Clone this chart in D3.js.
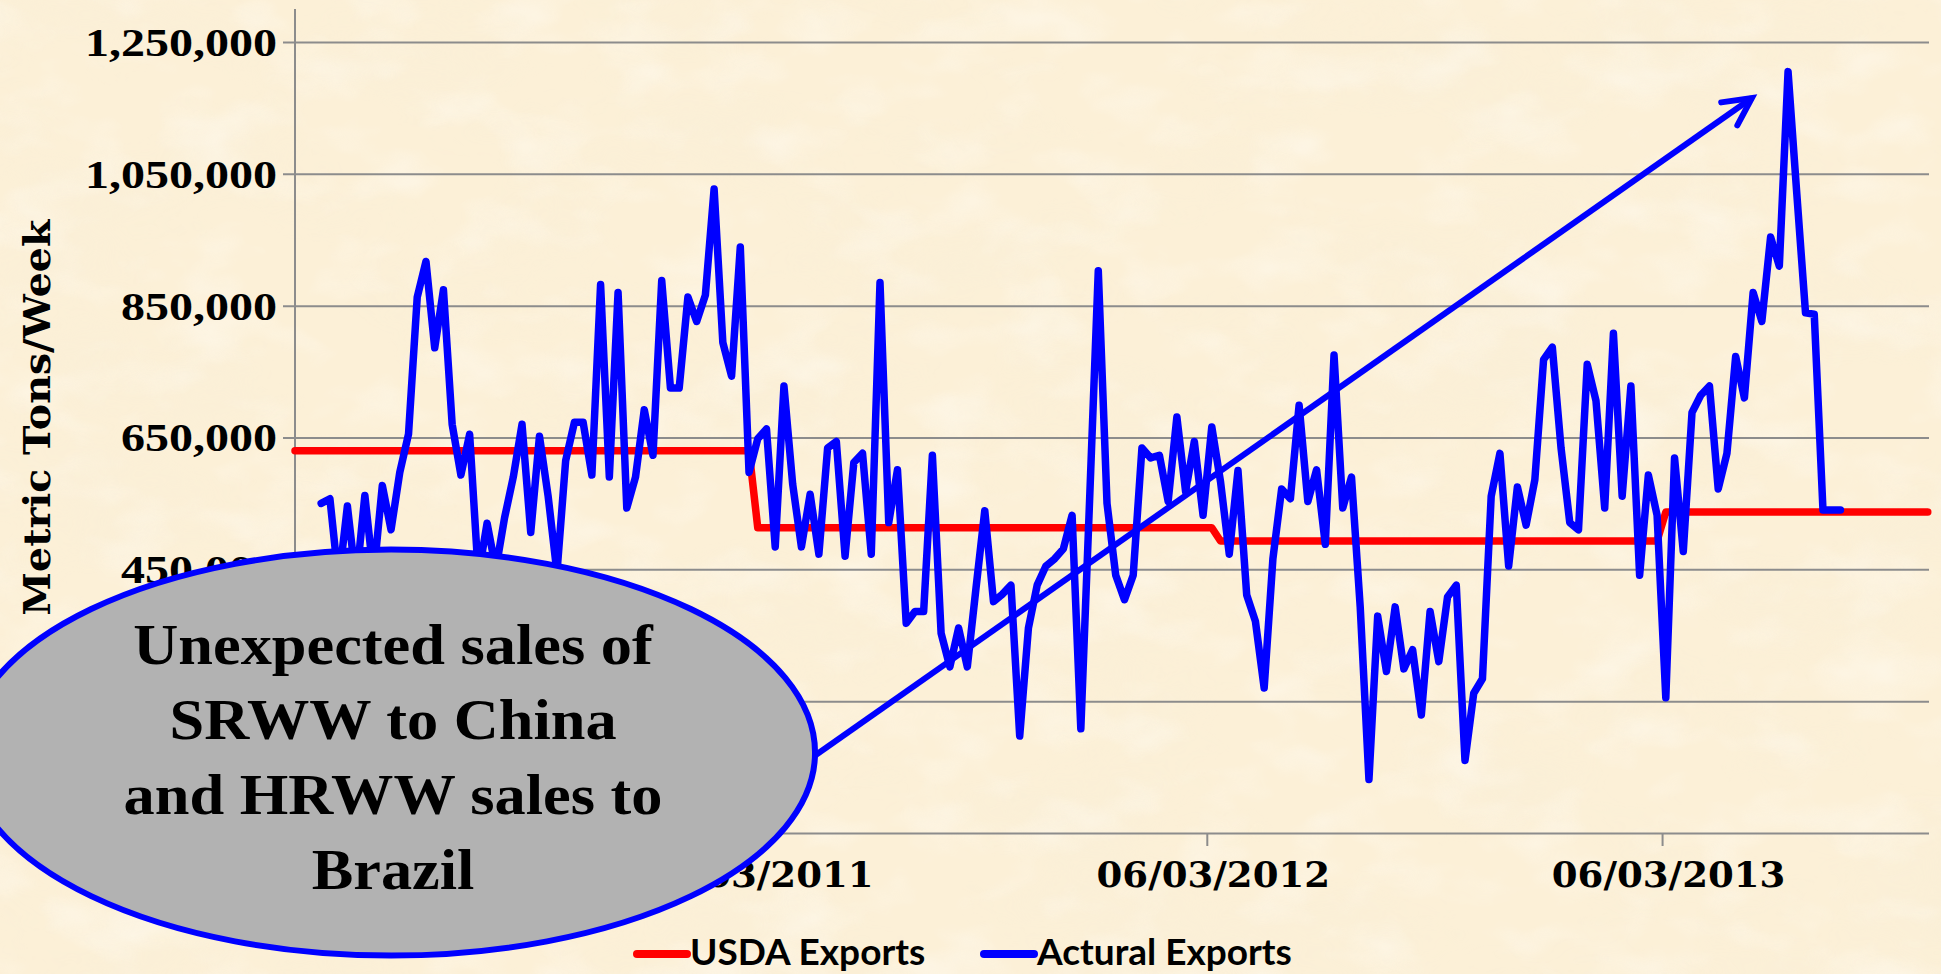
<!DOCTYPE html>
<meta charset="utf-8">
<style>
body { margin: 0; background: #fcf0d7; }
svg { display: block; }
.grid line, .xaxis line { stroke: #8c8c8c; stroke-width: 2px; }
.grid path, .xaxis path { display: none; }
.line { fill: none; stroke-width: 7.5px; stroke-linejoin: round; stroke-linecap: round; }
.ylab { font-family: "Liberation Serif", serif; font-weight: bold; font-size: 40px; fill: #000; }
.xaxis text { font-family: "DejaVu Serif", serif; font-weight: bold; font-size: 35px; fill: #000; }
.ytitle { font-family: "DejaVu Serif", serif; font-weight: bold; font-size: 37px; }
.note { font-family: "Liberation Serif", serif; font-weight: bold; font-size: 58px; }
.legend { font-family: "Lato", sans-serif; font-weight: bold; font-size: 37px; }
</style>
<body>
<script src="https://d3js.org/d3.v7.min.js"></script>
<script>

// weekly actual exports (metric tons), one value per week from actualStart
var actualStart = "2010-06-24";
var actualExports = [
  550000, 557000, 430000, 546000, 430000, 562000, 440000, 577000, 510000, 597000,
  655000, 863000, 917000, 786000, 874000, 670000, 593000, 655000, 440000, 520000,
  450000, 528000, 590000, 670000, 506000, 652000, 560000, 445000, 615000, 673000,
  673000, 593000, 882000, 590000, 870000, 543000, 590000, 692000, 623000, 888000,
  725000, 725000, 863000, 826000, 866000, 1027000, 794000, 743000, 939000, 597000,
  648000, 663000, 484000, 728000, 579000, 484000, 564000, 473000, 634000, 644000,
  470000, 612000, 626000, 473000, 885000, 521000, 601000, 368000, 386000, 386000,
  623000, 353000, 302000, 361000, 302000, 422000, 539000, 401000, 412000, 426000,
  197000, 361000, 426000, 455000, 466000, 481000, 532000, 208000, 553000, 903000,
  550000, 441000, 404000, 441000, 634000, 619000, 623000, 553000, 681000, 568000,
  644000, 532000, 666000, 583000, 473000, 600000, 411000, 371000, 270000, 466000,
  572000, 557000, 699000, 553000, 601000, 488000, 775000, 543000, 590000, 393000,
  131000, 379000, 295000, 393000, 299000, 328000, 229000, 386000, 310000, 408000,
  426000, 160000, 262000, 284000, 561000, 626000, 455000, 575000, 517000, 586000,
  768000, 787000, 634000, 521000, 510000, 761000, 706000, 543000, 808000, 561000,
  728000, 441000, 593000, 532000, 255000, 619000, 477000, 688000, 714000, 728000,
  572000, 626000, 773000, 710000, 870000, 826000, 954000, 910000, 1205000, 1020000,
  839000, 837000, 540000, 540000, 540000
];

// USDA needed weekly exports, vertices of the step line
var usdaDates = ["2010-06-03", "2011-06-02", "2011-06-09", "2012-06-07",
                 "2012-06-14", "2013-05-30", "2013-06-06", "2014-01-02"];
var usdaExports = [630000, 630000, 513000, 513000, 493000, 493000, 537000, 537000];

var yTicks = [50000, 250000, 450000, 650000, 850000, 1050000, 1250000];
var xTicks = ["06/03/2010", "06/03/2011", "06/03/2012", "06/03/2013"];
var seriesNames = ["USDA Exports", "Actural Exports"];
var noteLines = ["Unexpected sales of", "SRWW to China", "and HRWW sales to", "Brazil"];

// callout placement (in data terms)
var noteAt = {date: "2010-08-19", value: 172000};
var arrowTip = {date: "2013-08-14", value: 1165000};

var width = 1941, height = 974;
var margin = {top: 9, right: 12, bottom: 141, left: 295};

var parseDay = d3.utcParse("%Y-%m-%d");
var parseTick = d3.utcParse("%m/%d/%Y");

var actual = actualExports.map(function(v, i) {
  return {date: d3.utcDay.offset(parseDay(actualStart), 7 * i), value: v};
});
var usda = usdaDates.map(function(d, i) {
  return {date: parseDay(d), value: usdaExports[i]};
});

var x = d3.scaleUtc()
    .domain([parseDay("2010-06-03"), parseDay("2014-01-03")])
    .range([margin.left, width - margin.right]);
var y = d3.scaleLinear()
    .domain([50000, 1300000])
    .range([height - margin.bottom, margin.top]);

var svg = d3.select("body").append("svg")
    .attr("width", width)
    .attr("height", height);

// parchment background
var defs = svg.append("defs");
var f1 = defs.append("filter").attr("id", "paper").attr("x", 0).attr("y", 0).attr("width", "100%").attr("height", "100%");
f1.append("feTurbulence").attr("type", "fractalNoise").attr("baseFrequency", "0.005 0.009")
  .attr("numOctaves", 4).attr("seed", 7);
f1.append("feColorMatrix").attr("type", "matrix")
  .attr("values", "0 0 0 0 0.93  0 0 0 0 0.85  0 0 0 0 0.68  1.8 0 0 0 -0.8");
var f2 = defs.append("filter").attr("id", "paper2").attr("x", 0).attr("y", 0).attr("width", "100%").attr("height", "100%");
f2.append("feTurbulence").attr("type", "fractalNoise").attr("baseFrequency", "0.012 0.02")
  .attr("numOctaves", 3).attr("seed", 21);
f2.append("feColorMatrix").attr("type", "matrix")
  .attr("values", "0 0 0 0 1  0 0 0 0 0.99  0 0 0 0 0.96  1.8 0 0 0 -0.85");

svg.append("rect").attr("width", width).attr("height", height).attr("fill", "#fcf0d7");
svg.append("rect").attr("width", width).attr("height", height).attr("filter", "url(#paper)").attr("opacity", 0.45);
svg.append("rect").attr("width", width).attr("height", height).attr("filter", "url(#paper2)").attr("opacity", 0.5);

// stretch text horizontally to mimic the widened slide
function stretch(sel, k) {
  sel.each(function() {
    var w = this.getComputedTextLength();
    d3.select(this).attr("textLength", w * k).attr("lengthAdjust", "spacingAndGlyphs");
  });
}

// horizontal gridlines (with the small outside ticks)
var tickLen = 12;
svg.append("g")
    .attr("class", "grid")
    .attr("transform", "translate(" + (margin.left - tickLen) + ",0)")
    .call(d3.axisLeft(y).tickValues(yTicks).tickFormat("")
      .tickSize(-(width - margin.right - margin.left + tickLen)));

// y axis line
svg.append("line")
    .attr("x1", margin.left).attr("x2", margin.left)
    .attr("y1", y(1300000)).attr("y2", y(50000))
    .attr("stroke", "#8c8c8c").attr("stroke-width", 2);

// y labels
svg.append("g").selectAll("text")
  .data(yTicks)
  .join("text")
    .attr("class", "ylab")
    .attr("x", margin.left - 18)
    .attr("y", function(d) { return y(d); })
    .attr("dy", "0.35em")
    .attr("text-anchor", "end")
    .text(d3.format(","))
    .call(stretch, 1.2);

// x axis
var xa = svg.append("g")
    .attr("class", "xaxis")
    .attr("transform", "translate(0," + y(50000) + ")")
    .call(d3.axisBottom(x)
      .tickValues(xTicks.map(function(t) { return parseTick(t); }))
      .tickSize(13)
      .tickFormat(d3.utcFormat("%m/%d/%Y")));
xa.selectAll(".tick text")
    .attr("y", 54).attr("dy", null).attr("x", 6)
    .call(stretch, 1.06);

// y title
svg.append("text")
    .attr("class", "ytitle")
    .attr("transform", "translate(50," + y(680000) + ") rotate(-90)")
    .attr("text-anchor", "middle")
    .text("Metric Tons/Week")
    .call(function(s) { s.attr("textLength", 396).attr("lengthAdjust", "spacingAndGlyphs"); });

// series
var valueline = d3.line()
    .x(function(d) { return x(d.date); })
    .y(function(d) { return y(d.value); });

svg.append("path")
    .data([usda])
    .attr("class", "line")
    .style("stroke", "#ff0000")
    .attr("d", valueline);
svg.append("path")
    .data([actual])
    .attr("class", "line")
    .style("stroke", "#0000ff")
    .attr("d", valueline);

// callout arrow
var cx = x(parseDay(noteAt.date)), cy = y(noteAt.value);
var rx = 424, ry = 203;
var ax = x(parseDay(arrowTip.date)), ay = y(arrowTip.value);
var sx = cx + rx, sy = cy + 3;
var ang = Math.atan2(ay - sy, ax - sx);
var barb = 31, spread = 0.47;
svg.append("line")
    .attr("x1", sx).attr("y1", sy).attr("x2", ax).attr("y2", ay)
    .attr("stroke", "#0000ff").attr("stroke-width", 6);
svg.append("path")
    .attr("d", "M" + (ax - barb * Math.cos(ang - spread)) + "," + (ay - barb * Math.sin(ang - spread)) +
               "L" + ax + "," + ay +
               "L" + (ax - barb * Math.cos(ang + spread)) + "," + (ay - barb * Math.sin(ang + spread)))
    .attr("fill", "none").attr("stroke", "#0000ff").attr("stroke-width", 6)
    .attr("stroke-linecap", "round").attr("stroke-linejoin", "miter");

// callout ellipse
svg.append("ellipse")
    .attr("cx", cx).attr("cy", cy).attr("rx", rx).attr("ry", ry)
    .attr("fill", "#b2b2b2").attr("stroke", "#0000ff").attr("stroke-width", 6);
svg.append("g").selectAll("text")
  .data(noteLines)
  .join("text")
    .attr("class", "note")
    .attr("x", cx + 2)
    .attr("y", function(d, i) { return cy - 89 + i * 75; })
    .attr("text-anchor", "middle")
    .text(function(d) { return d; })
    .call(stretch, 1.075);

// legend
var legendX = [637, 984];
var legend = svg.append("g").selectAll("g")
  .data(seriesNames)
  .join("g")
    .attr("transform", function(d, i) { return "translate(" + legendX[i] + ",954)"; });
legend.append("line")
    .attr("x1", 0).attr("x2", 50)
    .attr("stroke", function(d, i) { return i ? "#0000ff" : "#ff0000"; })
    .attr("stroke-width", 8).attr("stroke-linecap", "round");
legend.append("text")
    .attr("class", "legend")
    .attr("x", 53).attr("y", 11)
    .text(function(d) { return d; })
    .call(stretch, 1.0);

</script>
</body>
